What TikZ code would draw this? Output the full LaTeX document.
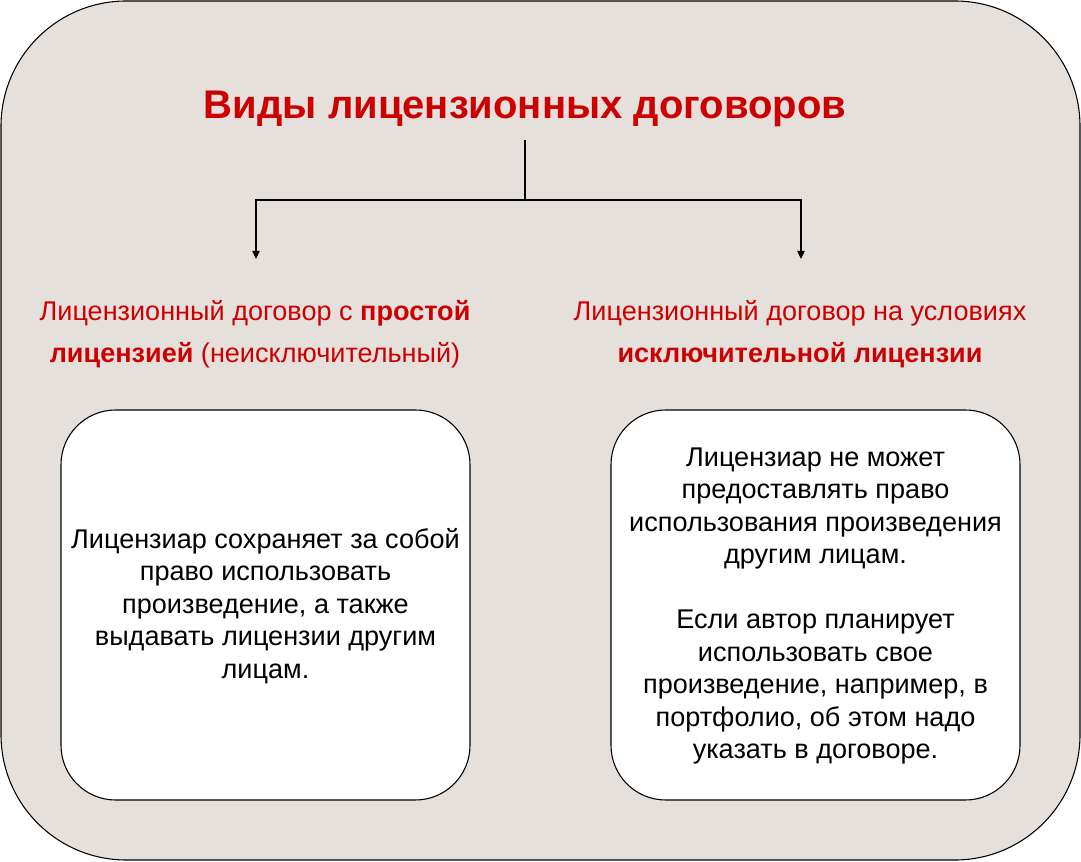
\documentclass[tikz,border=0pt]{standalone}
\usepackage{fontspec}
\setmainfont{Liberation Sans}
\usetikzlibrary{arrows.meta}
\definecolor{bg}{HTML}{E6E0DC}
\definecolor{redt}{HTML}{CC0000}
\tikzset{
  frame/.style={draw=black, line width=0.8pt, fill=bg, rounded corners=94pt},
  card/.style={draw=black, line width=0.8pt, fill=white, rounded corners=41pt},
  titletext/.style={text=redt, font=\fontsize{30pt}{36pt}\selectfont\bfseries, inner sep=0pt},
  headtext/.style={text=redt, font=\fontsize{20.3pt}{31.5pt}\selectfont, align=center, inner sep=0pt},
  bodytext/.style={text=black, font=\fontsize{20.3pt}{24.4pt}\selectfont, align=center, inner sep=0pt},
  conn/.style={draw=black, line width=0.8pt},
  arr/.style={conn, -{Triangle[length=6pt,width=5.5pt]}}
}
\begin{document}
\begin{tikzpicture}[x=0.75pt, y=-0.75pt]
\useasboundingbox (0,0) rectangle (1081,862);
\path[frame] (1,1) rectangle (1080,860);
\node[titletext, anchor=base] (title) at (525,119) {Виды лицензионных договоров};
\node[headtext] (hl) at (255,334) {Лицензионный договор с \textbf{простой}\\\textbf{лицензией} (неисключительный)};
\node[headtext] (hr) at (800,334) {Лицензионный договор на условиях\\\textbf{исключительной лицензии}};
\path[card] (61,410) rectangle (470,800);
\path[card] (611,410) rectangle (1020,800);
\node[bodytext] (bl) at (265.5,606) {Лицензиар сохраняет за собой\\право использовать\\произведение, а также\\выдавать лицензии другим\\лицам.};
\node[bodytext] (br) at (815.5,606) {Лицензиар не может\\предоставлять право\\использования произведения\\другим лицам.\\[24.4pt]Если автор планирует\\использовать свое\\произведение, например, в\\портфолио, об этом надо\\указать в договоре.};
\coordinate (t) at (525,140);
\coordinate (j) at (525,200);
\coordinate (al) at (256,259);
\coordinate (ar) at (801,259);
\draw[conn] (t) -- (j);
\draw[arr] (j) -| (al);
\draw[arr] (j) -| (ar);
\end{tikzpicture}
\end{document}
